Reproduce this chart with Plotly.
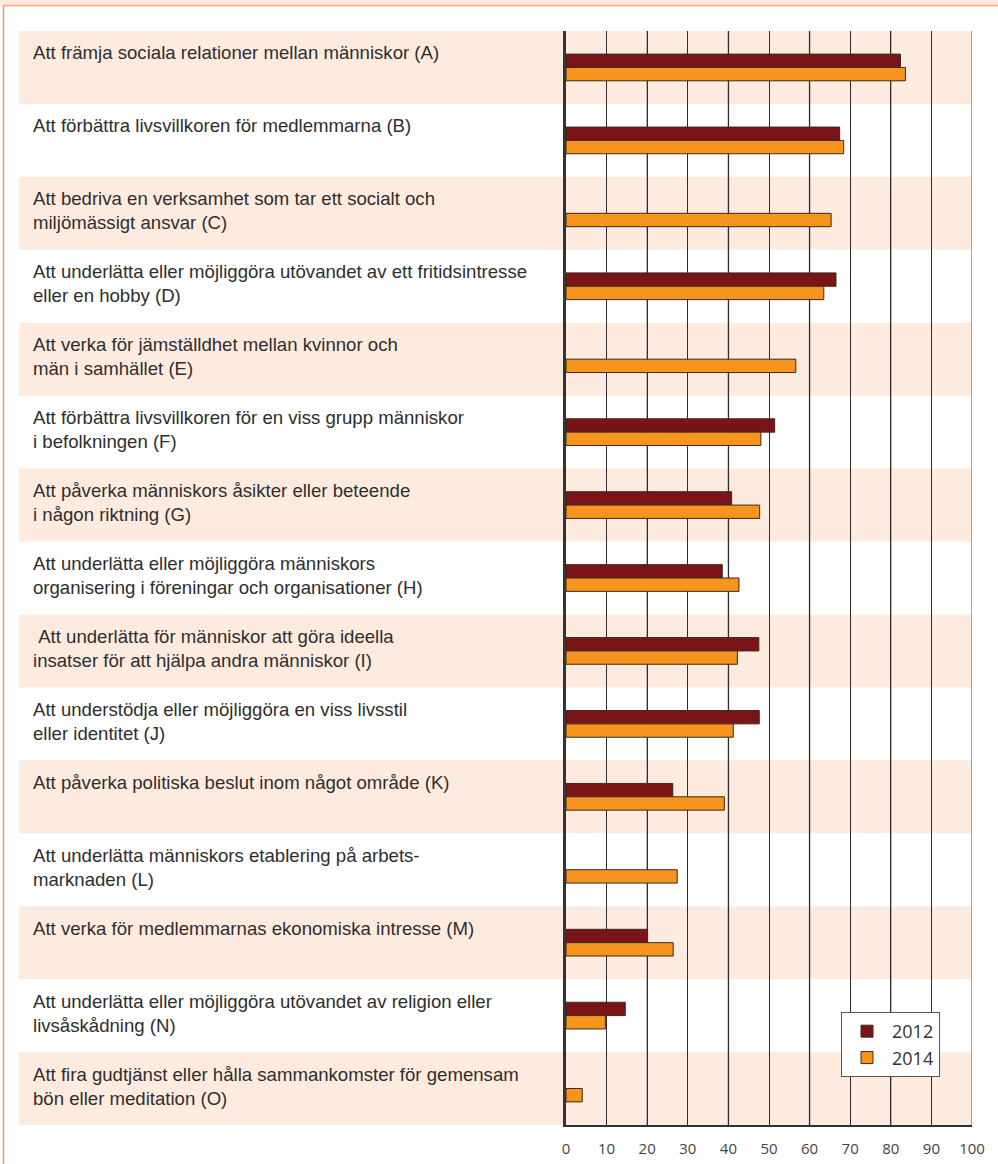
import plotly.graph_objects as go

categories = [
    "Att främja sociala relationer mellan människor (A)",
    "Att förbättra livsvillkoren för medlemmarna (B)",
    "Att bedriva en verksamhet som tar ett socialt och<br>miljömässigt ansvar (C)",
    "Att underlätta eller möjliggöra utövandet av ett fritidsintresse<br>eller en hobby (D)",
    "Att verka för jämställdhet mellan kvinnor och<br>män i samhället (E)",
    "Att förbättra livsvillkoren för en viss grupp människor<br>i befolkningen (F)",
    "Att påverka människors åsikter eller beteende<br>i någon riktning (G)",
    "Att underlätta eller möjliggöra människors<br>organisering i föreningar och organisationer (H)",
    "\u00a0Att underlätta för människor att göra ideella<br>insatser för att hjälpa andra människor (I)",
    "Att understödja eller möjliggöra en viss livsstil<br>eller identitet (J)",
    "Att påverka politiska beslut inom något område (K)",
    "Att underlätta människors etablering på arbets-<br>marknaden (L)",
    "Att verka för medlemmarnas ekonomiska intresse (M)",
    "Att underlätta eller möjliggöra utövandet av religion eller<br>livsåskådning (N)",
    "Att fira gudtjänst eller hålla sammankomster för gemensam<br>bön eller meditation (O)",
]

values_2012 = [82.4, 67.4, None, 66.5, None, 51.4, 40.8, 38.5, 47.5, 47.6, 26.3, None, 20.1, 14.6, None]
values_2014 = [83.6, 68.4, 65.3, 63.5, 56.6, 48.0, 47.7, 42.6, 42.2, 41.2, 39.0, 27.4, 26.4, 9.7, 4.0]

series_names = ["2012", "2014"]
tick_vals = list(range(0, 101, 10))
tick_text = [str(v) for v in tick_vals]

C2012 = "#7b1416"
C2014 = "#f7941e"
OUTLINE = "#3a2a20"
BAND = "#feebe0"
FRAME = "#f39263"

W, H = 998, 1164
ML, MR, MT, MB = 566, 26, 31, 39
PW = W - ML - MR
PH = H - MT - MB


def px_to_paper_x(px):
    return (px - ML) / PW


def px_to_paper_y(py):
    return (H - MB - py) / PH


fig = go.Figure()
for name, vals, col in [(series_names[0], values_2012, C2012), (series_names[1], values_2014, C2014)]:
    fig.add_trace(go.Bar(
        y=categories, x=vals, name=name, orientation="h",
        marker=dict(color=col, line=dict(color=OUTLINE, width=1)),
        hoverinfo="x+name",
    ))

shapes = []
# alternating row bands
for i, cat in enumerate(categories):
    if i % 2 == 0:
        shapes.append(dict(type="rect", xref="paper", yref="y",
                           x0=px_to_paper_x(19), x1=1.0, y0=i - 0.5, y1=i + 0.5,
                           fillcolor=BAND, line=dict(width=0), layer="below"))
# lighter gridlines on even tens
for v in tick_vals[2::2]:
    shapes.append(dict(type="line", xref="x", yref="paper", x0=v, x1=v, y0=0, y1=1,
                       line=dict(color="#8e8e8e", width=1.6), layer="between"))
# frame
shapes.append(dict(type="rect", xref="paper", yref="paper",
                   x0=px_to_paper_x(0), x1=px_to_paper_x(W), y0=px_to_paper_y(5), y1=px_to_paper_y(0),
                   fillcolor="#fdeadf", line=dict(width=0), layer="below"))
shapes.append(dict(type="line", xref="paper", yref="paper",
                   x0=px_to_paper_x(3.5), x1=px_to_paper_x(W), y0=px_to_paper_y(5.5), y1=px_to_paper_y(5.5),
                   line=dict(color="#f7a57c", width=1.5), layer="above"))
shapes.append(dict(type="line", xref="paper", yref="paper",
                   x0=px_to_paper_x(3.5), x1=px_to_paper_x(3.5), y0=px_to_paper_y(H), y1=px_to_paper_y(5.5),
                   line=dict(color=FRAME, width=1.5), layer="above"))

annotations = []
for cat in categories:
    lines = cat.split("<br>")
    for j, line in enumerate(lines):
        annotations.append(dict(
            xref="paper", yref="y", x=px_to_paper_x(31), y=cat,
            xanchor="left", yanchor="middle", yshift=14.5 - 24 * j,
            text=line, showarrow=False,
            font=dict(family="Liberation Sans, Arial, sans-serif", size=18.6, color="#2e2e2e"),
        ))

fig.update_layout(
    width=W, height=H,
    margin=dict(l=ML, r=MR, t=MT, b=MB, pad=0, autoexpand=False),
    paper_bgcolor="white", plot_bgcolor="rgba(0,0,0,0)",
    barmode="group", bargap=0.634, bargroupgap=0,
    shapes=shapes, annotations=annotations,
    showlegend=True,
    legend=dict(
        x=px_to_paper_x(841), y=px_to_paper_y(1012), xanchor="left", yanchor="top",
        bgcolor="white", bordercolor="#555555", borderwidth=1,
        font=dict(family="Open Sans, sans-serif", size=18, color="#333333"),
        traceorder="normal", itemwidth=40,
    ),
    xaxis=dict(
        range=[0, 100], tickvals=tick_vals, ticktext=tick_text,
        showgrid=True, gridcolor="#2d2d2d", gridwidth=1.2,
        zeroline=False, showline=True, linecolor="#333333", linewidth=2,
        ticks="outside", ticklen=9, tickcolor="rgba(0,0,0,0)",
        tickfont=dict(family="Open Sans, sans-serif", size=15, color="#444444"),
        fixedrange=True, automargin=False,
    ),
    yaxis=dict(
        categoryorder="array", categoryarray=categories, autorange="reversed",
        showticklabels=False, showgrid=False, zeroline=False,
        showline=True, linecolor="#333333", linewidth=2.5, ticks="",
        fixedrange=True, automargin=False,
    ),
)

fig.write_html("out.html", config={"displayModeBar": False},
               post_script="document.body.style.margin='0';document.body.style.overflow='hidden';")
